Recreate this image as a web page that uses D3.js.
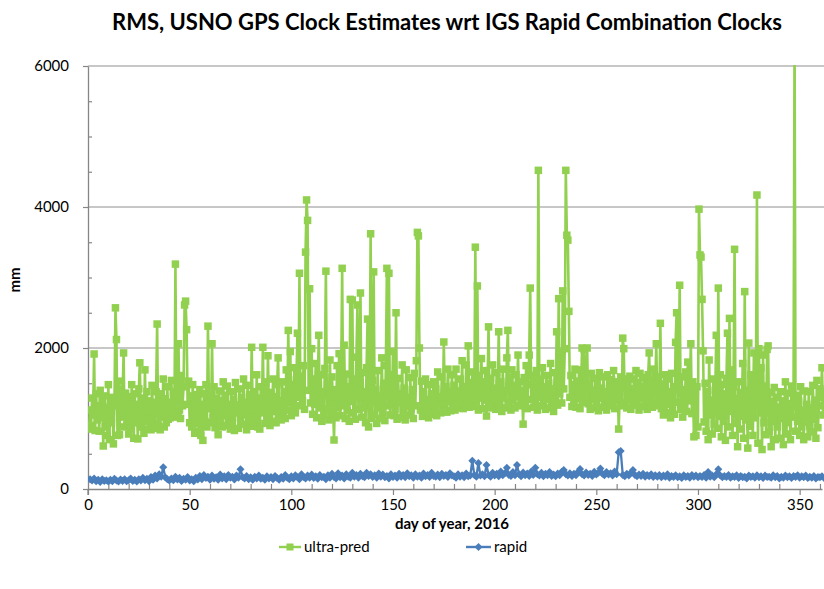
<!DOCTYPE html>
<html>
<head>
<meta charset="utf-8">
<script src="https://cdn.jsdelivr.net/npm/d3@7"></script>
<style>
  body { margin: 0; background: #fff; }
  svg text { font-family: Lato, "Open Sans", sans-serif; fill: #000; }
</style>
</head>
<body>
<script>
// RMS of USNO GPS clock estimates vs IGS rapid combination, 2016
const chartTitle = "RMS, USNO GPS Clock Estimates wrt IGS Rapid Combination Clocks";
const xTitle = "day of year, 2016";
const yTitle = "mm";
const seriesNames = ["ultra-pred", "rapid"];
const yTicks = [0, 2000, 4000, 6000];
const xTicks = [0, 50, 100, 150, 200, 250, 300, 350];

// ultra-pred, two samples a day from day 0.5
const ultraStart = 0.5, ultraStep = 0.5;
const ultraPred = [
  850,1120,900,1290,1050,1915,830,1350,980,1180,
  820,1400,1010,1250,610,1320,880,1160,760,1480,
  700,1210,940,1300,640,1180,2570,2120,760,1530,
  770,1420,1020,1290,1930,880,1360,900,1230,780,
  1310,860,1480,1020,720,1350,940,1200,710,1420,
  1790,880,1290,1050,790,1690,960,1380,850,1250,
  1090,840,1470,930,1230,860,1380,2340,900,1300,
  840,1350,1020,1560,880,1280,940,1450,990,1230,
  1010,1540,1100,1380,1020,3190,1060,1470,2060,1120,
  1000,1610,1180,1450,2610,2665,2260,1200,1530,940,
  1320,880,1480,1050,790,1340,930,1260,820,1410,
  760,1200,690,1350,960,1480,880,2310,1140,1320,
  940,2060,1010,1450,870,1280,1150,770,1390,960,
  1250,880,1520,1040,1330,900,1460,990,1200,850,
  1380,940,1270,830,1510,1080,1190,860,1420,1010,
  1300,920,1560,1050,1230,840,1470,980,1340,890,
  2010,1120,930,1380,1020,1620,880,1290,850,1450,
  1080,2010,1160,930,1520,1010,1890,1100,900,1370,
  960,1560,1100,1310,940,1480,1860,1050,1260,980,
  1520,1070,1380,1000,1690,1120,2250,1230,1950,1040,
  1480,1160,1720,1080,1550,2210,1300,3060,1180,1600,
  1250,1750,1130,3360,4100,3810,1400,2840,1220,1990,
  1060,1560,1200,1780,1010,1470,2180,1150,1620,960,
  1380,1050,1710,3090,1140,1490,980,1830,1070,1590,
  1200,695,1410,1010,1750,1150,1920,1040,1520,3130,
  1180,2040,1000,1630,1110,1450,960,2690,1240,2680,
  1080,1560,990,1870,2610,1130,1470,2780,1020,1650,
  1150,1380,940,1720,2410,880,1290,3620,1000,1540,
  3080,1060,1410,930,1680,1150,1320,1000,1860,1090,
  1500,970,1750,3130,1180,3060,1050,1620,1200,1950,
  1040,1130,2500,990,1570,1220,1350,1010,1760,
  1110,1430,980,1690,1170,1300,1050,1580,1140,1410,
  1000,1640,1180,1820,3640,3590,2000,1120,1530,1030,
  1380,1090,1560,1160,1270,1010,1480,1130,1350,1060,
  1520,1150,1420,1040,1660,1190,1310,1080,1590,1170,
  2085,1210,1450,1090,1700,1240,1380,1110,1620,1190,
  1470,1120,1700,1260,1390,1150,1560,1230,1820,1140,
  1450,1200,1760,1280,2030,1160,1510,1230,1660,1170,
  1380,3430,1250,2880,1120,1610,1290,1850,1140,1520,
  1260,1680,1035,1490,2300,1210,1570,1150,1760,1240,
  1430,1130,1650,1270,2230,1180,1520,1100,1700,1290,
  1400,1150,1860,2250,1230,1580,1120,1690,1260,1470,
  1150,1620,1310,1900,1180,1520,1240,1400,920,1580,
  1210,1750,1140,1480,1900,2850,1270,1610,1160,1540,
  1250,1680,1120,4520,1300,1560,1180,1720,1240,1450,
  1130,1610,1270,1500,1150,1780,1230,1420,1100,1650,
  1280,2230,1190,2700,1350,1940,1220,2810,1420,1990,
  4520,3600,3530,2520,1300,1610,1170,1480,1250,1700,
  1160,1530,1280,1690,1140,1450,2000,1230,1980,1320,
  1560,2000,1210,1480,1130,1640,1270,1400,1150,1570,
  1240,1500,1110,1650,1290,1430,1160,1590,1230,1380,
  1120,1620,1270,1490,1180,1550,1210,1680,1140,1460,
  1250,1520,850,1300,1590,1180,2140,1990,1230,1560,
  1150,1470,1260,1600,1130,1420,1280,1560,1190,1680,
  1240,1510,1120,1640,1290,1450,1170,1580,1220,1480,
  1130,1620,1930,1250,1540,1160,1700,1230,1480,2060,
  1180,1590,1260,2350,1140,1490,1050,1620,1200,
  1080,1560,1220,1380,1010,1640,1150,1450,1060,2080,
  2500,1230,1470,2890,1130,1590,1020,1410,1190,1660,
  1100,1800,1250,1430,2060,1070,1520,740,1380,760,
  1450,880,3970,3320,3290,2690,1960,950,1500,820,
  1380,700,1830,1050,1260,780,1560,920,1400,2180,
  860,2850,1030,1620,740,1480,960,1350,690,1570,
  2210,880,2420,1100,1690,760,1450,3400,930,1280,
  600,1520,850,1370,1030,1780,720,2800,980,1400,
  580,2070,890,1620,1100,760,1930,1010,1500,4170,
  650,1990,1080,1720,560,1900,940,1460,770,1980,
  2030,820,1370,600,1240,960,1440,700,1300,880,
  1160,720,1380,1000,1250,630,1090,1520,780,1360,
  940,1210,700,1460,1020,1300,6500,820,1330,960,
  1240,760,1450,880,1120,700,1390,950,1200,740,
  1380,900,1150,810,1470,990,1260,720,1540,870,
  1180,1420,1300,1720,1050,1380,1200,1720,1350,1690
];

// rapid, one sample a day from day 1
const rapidStart = 1, rapidStep = 1;
const rapid = [
  140,120,150,110,130,100,140,115,125,105,
  130,110,145,120,105,135,115,140,110,125,
  150,115,130,105,140,120,160,125,145,110,
  170,130,190,150,210,175,310,165,140,120,
  150,125,175,135,160,115,145,130,170,120,
  140,110,160,135,185,140,200,155,175,130,
  190,145,165,130,205,150,180,140,200,160,
  175,135,190,160,280,170,150,185,140,165,
  130,175,150,190,145,160,130,180,150,170,
  140,185,155,130,170,145,200,160,140,180,
  150,195,165,140,210,170,150,190,160,205,
  155,180,145,200,165,175,140,195,160,215,
  170,150,225,165,190,150,210,175,160,230,
  175,200,160,215,180,165,230,185,210,170,
  195,160,220,175,205,165,185,150,210,170,
  190,160,215,175,200,165,225,180,195,160,
  210,175,190,160,220,180,200,170,230,185,
  175,205,165,215,185,200,170,225,190,180,
  160,210,175,195,165,220,180,190,400,200,
  175,370,190,210,180,340,200,175,230,190,
  215,180,250,195,225,300,200,185,240,195,
  340,210,180,235,195,220,185,250,200,300,
  210,190,230,180,215,195,240,185,205,180,
  220,195,245,270,210,190,225,185,215,195,
  240,285,210,190,235,200,215,185,245,205,
  230,290,215,195,240,205,225,190,250,210,
  520,540,200,180,215,190,230,270,200,180,
  205,185,215,175,200,180,210,170,195,175,
  200,165,190,175,210,160,185,170,195,165,
  180,155,195,170,185,160,200,175,190,165,
  185,170,200,160,240,175,190,165,210,280,
  190,165,185,170,200,160,180,170,195,155,
  185,165,175,150,190,170,180,160,195,165,
  180,155,190,170,175,160,195,165,185,150,
  175,160,190,165,180,155,185,170,195,160,
  180,165,190,155,175,160,185,150,170,165,
  180,155,175,160
];

const colors = {"ultra-pred": "#92D050", "rapid": "#4A7EBB"};
const width = 824, height = 589;
const plot = {left: 88, right: 822, top: 66, bottom: 489};

const x = d3.scaleLinear().domain([0, 361]).range([plot.left, plot.right]);
const y = d3.scaleLinear().domain([0, 6000]).range([plot.bottom, plot.top]);

const ultraPts = ultraPred.map((v, i) => [ultraStart + i * ultraStep, v]);
const rapidPts = rapid.map((v, i) => [rapidStart + i * rapidStep, v]);

const svg = d3.select("body").append("svg")
    .attr("width", width)
    .attr("height", height)
    .style("background", "white");

svg.append("defs").append("clipPath").attr("id", "plotclip")
  .append("rect")
    .attr("x", plot.left).attr("y", plot.top - 1)
    .attr("width", plot.right - plot.left + 2).attr("height", plot.bottom - plot.top + 1);

// gridlines
svg.append("g").selectAll("line")
  .data(yTicks.filter(d => d > 0))
  .enter().append("line")
    .attr("x1", plot.left).attr("x2", width)
    .attr("y1", d => y(d)).attr("y2", d => y(d))
    .attr("stroke", "#b4b4b4").attr("stroke-width", 1.3);

// y axis, major ticks outside, minor ticks inside
svg.append("g")
    .attr("transform", "translate(" + plot.left + ",0)")
    .call(d3.axisLeft(y).tickValues(yTicks).tickFormat(d3.format("d"))
        .tickSizeInner(5).tickSizeOuter(0).tickPadding(14));
svg.append("g")
    .attr("transform", "translate(" + plot.left + ",0)")
    .call(d3.axisLeft(y).tickValues(d3.range(500, 6000, 500).filter(d => d % 2000)).tickSize(-4).tickFormat(""))
    .call(g => g.select(".domain").remove());

svg.append("g")
    .attr("transform", "translate(0," + plot.bottom + ")")
    .call(d3.axisBottom(x).tickValues(xTicks).tickSizeInner(6).tickSizeOuter(0).tickPadding(4));
svg.append("g")
    .attr("transform", "translate(0," + plot.bottom + ")")
    .call(d3.axisBottom(x).tickValues(d3.range(10, 361, 10).filter(d => d % 50)).tickSize(-5).tickFormat(""))
    .call(g => g.select(".domain").remove());

svg.selectAll(".domain").attr("stroke", "#868686").attr("stroke-width", 1.3);
svg.selectAll(".tick line").attr("stroke", "#868686").attr("stroke-width", 1.2);
svg.selectAll(".tick text").style("font-size", "15px").attr("fill", "#000");
// extend y axis down to the 0 tick on the x axis
svg.append("line")
    .attr("x1", plot.left).attr("x2", plot.left)
    .attr("y1", plot.bottom).attr("y2", plot.bottom + 6)
    .attr("stroke", "#868686").attr("stroke-width", 1.3);

// series
const line = d3.line().x(d => x(d[0])).y(d => y(d[1]));
const series = svg.append("g").attr("clip-path", "url(#plotclip)");

function square(g, pts, color, s) {
    g.selectAll("rect.m").data(pts).enter().append("rect")
        .attr("class", "m")
        .attr("x", d => x(d[0]) - s / 2).attr("y", d => y(d[1]) - s / 2)
        .attr("width", s).attr("height", s)
        .attr("fill", color);
}
function diamond(g, pts, color, r) {
    g.selectAll("path.m").data(pts).enter().append("path")
        .attr("class", "m")
        .attr("d", "M0," + (-r) + "L" + r + ",0L0," + r + "L" + (-r) + ",0Z")
        .attr("transform", d => "translate(" + x(d[0]) + "," + y(d[1]) + ")")
        .attr("fill", color);
}

let gU = series.append("g");
gU.append("path").datum(ultraPts)
    .attr("d", line).attr("fill", "none")
    .attr("stroke", colors["ultra-pred"]).attr("stroke-width", 2.6).attr("stroke-linejoin", "round");
square(gU, ultraPts, colors["ultra-pred"], 7.5);

let gR = series.append("g");
gR.append("path").datum(rapidPts)
    .attr("d", line).attr("fill", "none")
    .attr("stroke", colors["rapid"]).attr("stroke-width", 2.3).attr("stroke-linejoin", "round");
diamond(gR, rapidPts, colors["rapid"], 4);

// titles
svg.append("text")
    .attr("x", 447).attr("y", 30)
    .attr("text-anchor", "middle")
    .style("font-size", "22px").style("font-weight", "bold")
    .text(chartTitle);

svg.append("text")
    .attr("x", 452).attr("y", 529)
    .attr("text-anchor", "middle")
    .style("font-size", "15px").style("font-weight", "bold")
    .text(xTitle);

svg.append("text")
    .attr("transform", "translate(20,280) rotate(-90)")
    .attr("text-anchor", "middle")
    .style("font-size", "15px").style("font-weight", "bold")
    .text(yTitle);

// legend
const legendY = 547;
const legend = [
    {name: seriesNames[0], x0: 279, x1: 301, tx: 304},
    {name: seriesNames[1], x0: 466, x1: 491, tx: 494}
];
legend.forEach(function (l) {
    let g = svg.append("g");
    g.append("line")
        .attr("x1", l.x0).attr("x2", l.x1).attr("y1", legendY).attr("y2", legendY)
        .attr("stroke", colors[l.name]).attr("stroke-width", 2.4);
    let cx = (l.x0 + l.x1) / 2;
    if (l.name == "ultra-pred") {
        g.append("rect").attr("x", cx - 3.5).attr("y", legendY - 3.5)
            .attr("width", 7).attr("height", 7).attr("fill", colors[l.name]);
    } else {
        g.append("path").attr("d", "M0,-4L4,0L0,4L-4,0Z")
            .attr("transform", "translate(" + cx + "," + legendY + ")")
            .attr("fill", colors[l.name]);
    }
    g.append("text")
        .attr("x", l.tx).attr("y", legendY + 5)
        .style("font-size", "15px")
        .text(l.name);
});
</script>
</body>
</html>
